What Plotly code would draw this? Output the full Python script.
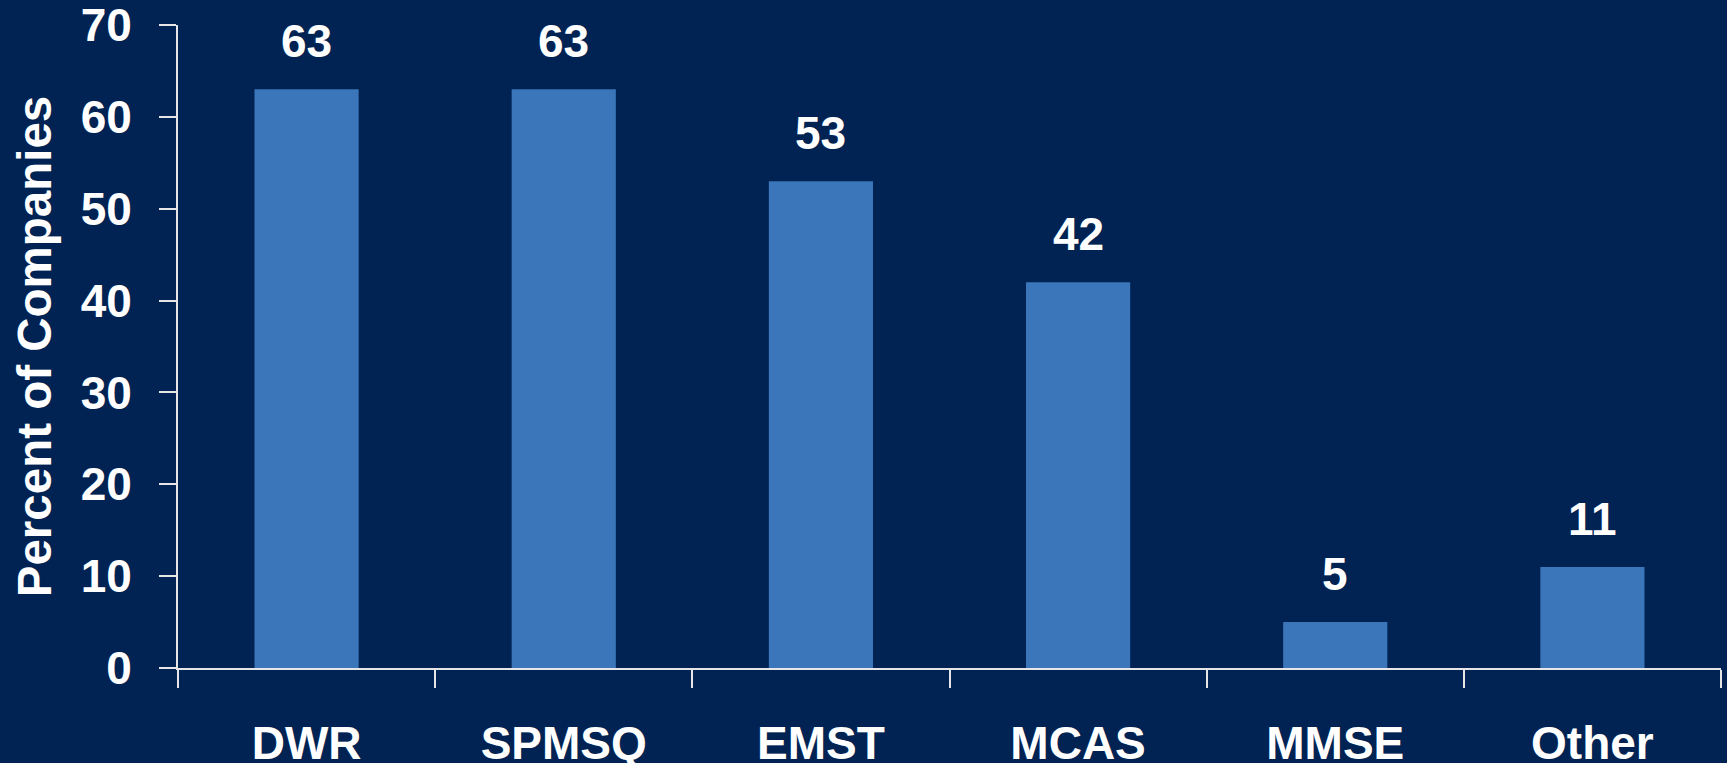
import plotly.graph_objects as go

categories = ["DWR", "SPMSQ", "EMST", "MCAS", "MMSE", "Other"]
values = [63, 63, 53, 42, 5, 11]
y_ticks = [0, 10, 20, 30, 40, 50, 60, 70]

BG = "#002354"
BAR = "#3A76B9"
LINE = "#E6E6E6"
FONT = "Liberation Sans, Arial, sans-serif"

fig = go.Figure()
fig.add_trace(go.Bar(x=categories, y=values, marker=dict(color=BAR, line=dict(width=0)), width=0.405))

for c, v in zip(categories, values):
    fig.add_annotation(x=c, y=v, text=str(v), showarrow=False, yanchor="bottom", yshift=20,
                       font=dict(family=FONT, size=46, color="white", weight="bold"))

fig.update_layout(
    width=1727, height=763,
    paper_bgcolor=BG, plot_bgcolor=BG,
    margin=dict(l=178, r=6, t=25, b=95),
    showlegend=False,
    xaxis=dict(
        type="category", tickson="boundaries", ticks="outside", ticklen=18, tickwidth=2,
        tickcolor=LINE, showline=True, linecolor=LINE, linewidth=2, showgrid=False,
        tickfont=dict(family=FONT, size=46, color="white", weight="bold"),
        ticklabelstandoff=34, range=[-0.5, 5.5], automargin=False,
        ticklabeloverflow="allow",
    ),
    yaxis=dict(
        range=[0, 70], tickvals=y_ticks, ticks="outside", ticklen=17, tickwidth=2,
        tickcolor=LINE, showline=True, linecolor=LINE, linewidth=2, showgrid=False,
        zeroline=False, automargin=False, ticklabeloverflow="allow",
        tickfont=dict(family=FONT, size=46, color="white", weight="bold"),
        ticklabelstandoff=18,
        title=dict(text="Percent of Companies", standoff=14,
                   font=dict(family=FONT, size=47.5, color="white", weight="bold")),
    ),
)

fig.write_html(
    "out.html",
    config={"displayModeBar": False},
    post_script="document.body.style.margin='0';document.body.style.background='" + BG + "';",
)
